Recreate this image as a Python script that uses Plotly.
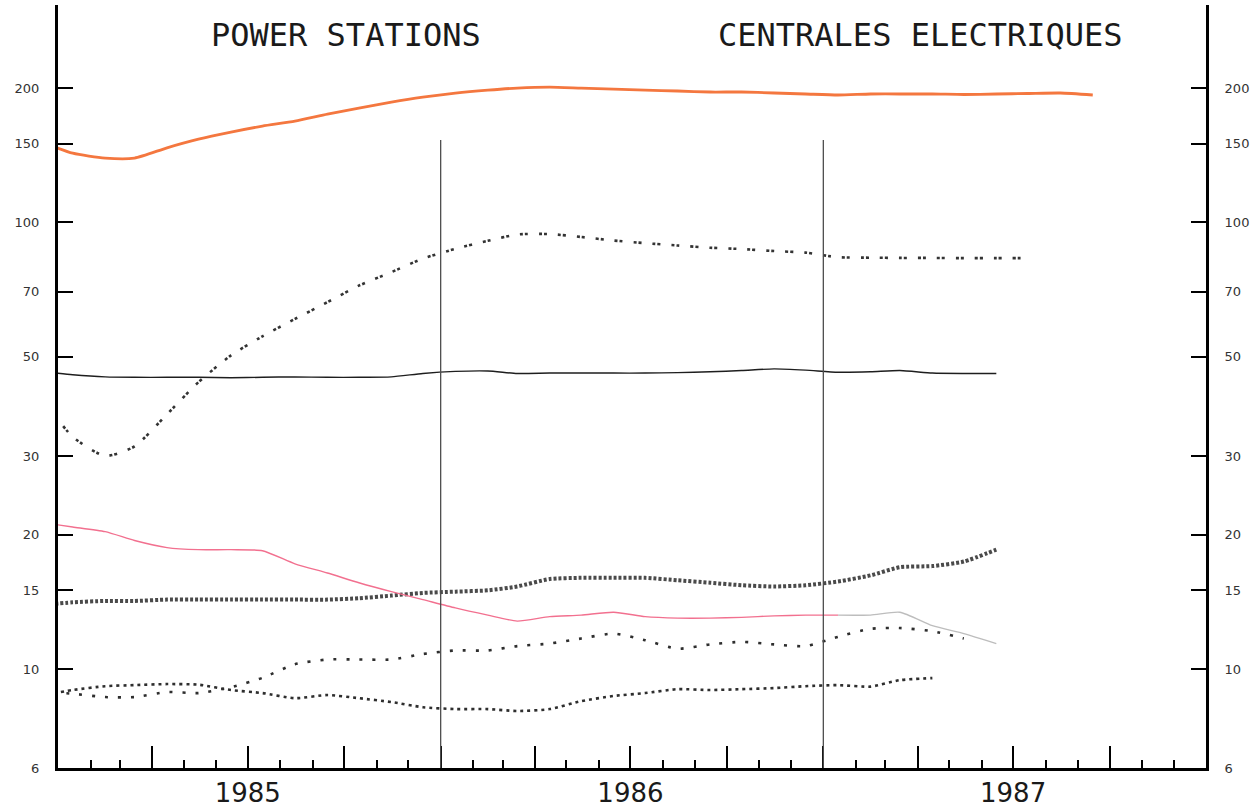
import math
import plotly.graph_objects as go

# ---------------- data (monthly, plotted at mid-month, Dec 1984 onwards) ----------------
month_dates = [f"{y}-{m:02d}-15" for y in (1984, 1985, 1986, 1987) for m in range(1, 13)]
first = month_dates.index("1984-12-15")

orange_top = [152, 143, 139.4, 139.4, 147, 153.7, 159.4, 164.4, 168.7, 174.9, 180.4, 186.1,
              190.9, 194.9, 197.9, 200, 201, 200, 199, 198, 197, 196, 196, 195, 194, 193,
              194, 194, 194, 193.5, 194, 194.5, 195, 193]
dotted_pairs = [41, 33.1, 30.0, 31.5, 37.2, 43.9, 50.4, 55.6, 60.8, 66.3, 72.2, 77.4, 83.0,
                87.3, 91.0, 94.0, 94.2, 92.8, 91.1, 89.9, 88.8, 87.8, 87.2, 86.3, 85.6, 83.6,
                83.4, 83.3, 83.3, 83.2, 83.2, 83.2]
solid_black = [46.4, 45.6, 45.1, 45.0, 45.0, 45.0, 44.9, 45.0, 45.1, 45.0, 45.0, 45.1, 45.9,
               46.4, 46.5, 45.9, 46.0, 46.0, 46.0, 46.0, 46.1, 46.3, 46.6, 47.0, 46.7, 46.2,
               46.3, 46.6, 46.0, 45.9, 45.9]
thick_dotted = [13.9, 14.1, 14.2, 14.2, 14.3, 14.3, 14.3, 14.3, 14.3, 14.3, 14.4, 14.6, 14.8,
                14.9, 15.0, 15.3, 15.9, 16.0, 16.0, 16.0, 15.8, 15.6, 15.4, 15.3, 15.4, 15.7,
                16.2, 16.9, 17.0, 17.4, 18.5]
pink_line = [21.3, 20.8, 20.3, 19.4, 18.7, 18.5, 18.5, 18.4, 17.2, 16.4, 15.6, 14.9, 14.3,
             13.7, 13.2, 12.8, 13.1, 13.2, 13.4, 13.1, 13.0, 13.0, 13.05, 13.15, 13.2, 13.2,
             13.2, 13.4, 12.5, 12.0, 11.4]
sparse_dots = [8.9, 8.8, 8.65, 8.65, 8.88, 8.83, 9.1, 9.55, 10.25, 10.5, 10.5, 10.5, 10.8,
               11.0, 11.0, 11.25, 11.4, 11.7, 12.0, 11.6, 11.1, 11.35, 11.5, 11.35, 11.25,
               11.8, 12.3, 12.35, 12.15, 11.7]
plus_dots = [8.7, 8.97, 9.15, 9.2, 9.25, 9.22, 8.97, 8.83, 8.6, 8.74, 8.6, 8.43, 8.21, 8.13,
             8.13, 8.05, 8.13, 8.47, 8.7, 8.83, 9.01, 8.97, 9.01, 9.06, 9.15, 9.2, 9.13, 9.44,
             9.54]
pink_grey_split = 26   # index (in pink_line) where the line turns grey

y_tick_values = [6, 10, 15, 20, 30, 50, 70, 100, 150, 200]
y_tick_labels = ["6", "10", "15", "20", "30", "50", "70", "100", "150", "200"]
quarter_ticks = ["1985-04-01", "1985-07-01", "1985-10-01", "1986-01-01", "1986-04-01",
                 "1986-07-01", "1986-10-01", "1987-01-01", "1987-04-01", "1987-07-01",
                 "1987-10-01"]
year_labels = {"1985-07-01": "1985", "1986-07-01": "1986", "1987-07-01": "1987"}
year_breaks = ["1986-01-01", "1987-01-01"]
title_left = "POWER STATIONS"
title_right = "CENTRALES ELECTRIQUES"


def xs(values, offset=0):
    return month_dates[first + offset: first + offset + len(values)]


fig = go.Figure()


def add(x, y, color, width, dash="solid"):
    fig.add_trace(go.Scatter(x=x, y=y, mode="lines", showlegend=False, hoverinfo="skip",
                             line=dict(color=color, width=width, dash=dash, shape="spline",
                                       smoothing=0.6)))


add(xs(solid_black), solid_black, "#1e1e1e", 1.4)
add(xs(thick_dotted), thick_dotted, "#4a4a4a", 4, "3px,2px")
add(xs(pink_line[:pink_grey_split]), pink_line[:pink_grey_split], "#f2708f", 1.4)
add(xs(pink_line[pink_grey_split - 1:], pink_grey_split - 1), pink_line[pink_grey_split - 1:],
    "#bdbdbd", 1.4)
add(xs(sparse_dots), sparse_dots, "#2e2e2e", 2.6, "3px,10px")
add(xs(plus_dots), plus_dots, "#2e2e2e", 2.6, "3px,4px")
add(xs(dotted_pairs), dotted_pairs, "#333333", 2.6, "3px,2px,3px,11px")
add(xs(orange_top), orange_top, "#f4773f", 2.8)

# empty trace so the right-hand axis is drawn
fig.add_trace(go.Scatter(x=[], y=[], yaxis="y2", showlegend=False))

yrange = [math.log10(6), math.log10(307)]
yaxis_common = dict(type="log", range=yrange, tickmode="array", tickvals=y_tick_values,
                    ticktext=y_tick_labels, ticks="inside", ticklen=15, tickwidth=1.5,
                    tickcolor="black", showline=True, linewidth=3, linecolor="black",
                    showgrid=False, zeroline=False, automargin=False,
                    tickfont=dict(family="DejaVu Sans", size=13, color="#333333"),
                    ticklabelstandoff=13)

fig.update_layout(
    width=1257, height=809, autosize=False,
    margin=dict(l=58, r=51, t=5, b=41, pad=0),
    paper_bgcolor="white", plot_bgcolor="white",
    xaxis=dict(type="date", range=["1985-01-01", "1988-01-01"], tickmode="array",
               tickvals=quarter_ticks, ticktext=[year_labels.get(q, "") for q in quarter_ticks],
               ticks="inside", ticklen=22, tickwidth=1.5, tickcolor="black",
               showline=True, linewidth=3, linecolor="black", showgrid=False, zeroline=False,
               automargin=False,
               tickfont=dict(family="DejaVu Sans", size=26, color="#1a1a1a"),
               ticklabelstandoff=0,
               minor=dict(ticks="inside", ticklen=8, tickwidth=1.5, tickcolor="black",
                          dtick="M1", tick0="1985-01-01", showgrid=False)),
    yaxis=dict(side="left", **yaxis_common),
    yaxis2=dict(side="right", overlaying="y", anchor="x", **yaxis_common),
)

for xb in year_breaks:
    fig.add_shape(type="line", xref="x", yref="paper", x0=xb, x1=xb, y0=0, y1=0.823,
                  line=dict(color="#4d4d4d", width=1.3))

for text, xpos in ((title_left, 0.2509), (title_right, 0.7509)):
    fig.add_annotation(text=text, xref="paper", yref="paper", x=xpos, y=0.961,
                       xanchor="center", yanchor="middle", showarrow=False,
                       font=dict(family="DejaVu Sans Mono", size=32, color="#1a1a1a"))

fig.write_html("out.html", config={"displayModeBar": False},
               post_script="document.body.style.margin='0';")
